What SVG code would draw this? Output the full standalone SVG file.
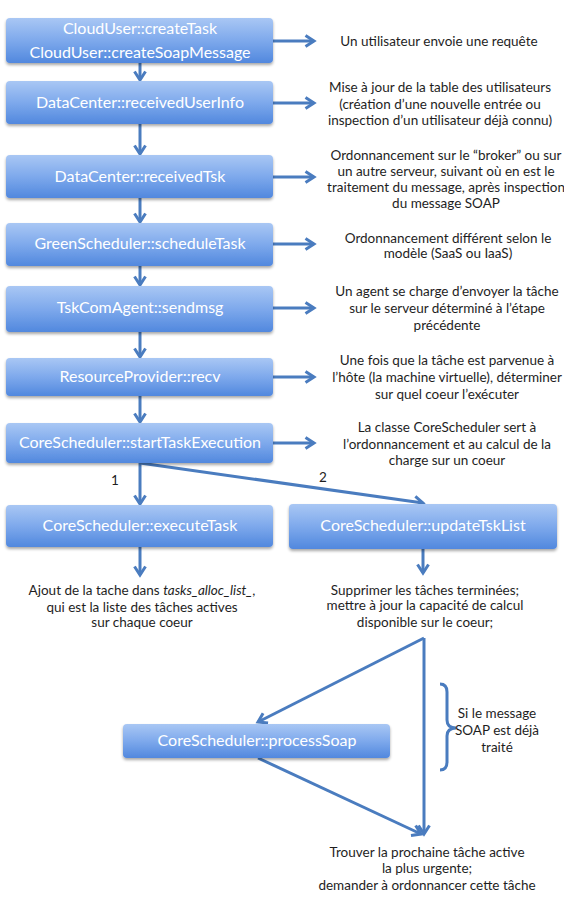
<svg xmlns="http://www.w3.org/2000/svg" width="564" height="902" viewBox="0 0 564 902">
  <defs>
    <linearGradient id="boxFill" x1="0" y1="0" x2="0" y2="1">
      <stop offset="0" stop-color="#a9c7f4"/>
      <stop offset="0.5" stop-color="#7ea9ec"/>
      <stop offset="1" stop-color="#5188de"/>
    </linearGradient>
    <filter id="shadow" x="-5%" y="-20%" width="110%" height="150%">
      <feGaussianBlur in="SourceAlpha" stdDeviation="1.5"/>
      <feOffset dy="2" result="b"/>
      <feComponentTransfer><feFuncA type="linear" slope="0.35"/></feComponentTransfer>
      <feMerge><feMergeNode/><feMergeNode in="SourceGraphic"/></feMerge>
    </filter>
    <marker id="arrow" markerUnits="userSpaceOnUse" viewBox="0 0 14 14" refX="11" refY="7" markerWidth="14" markerHeight="14" orient="auto">
      <path d="M2.5,1.5 L11,7 L2.5,12.5" fill="none" stroke="#4a7cbf" stroke-width="3"/>
    </marker>
  </defs>
  <style>
    .box { fill: url(#boxFill); filter: url(#shadow); }
    .lbl { font-family: Lato, "Open Sans", sans-serif; font-size: 16px; fill: #ffffff; text-anchor: middle; }
    .note { font-family: Lato, "Open Sans", sans-serif; font-size: 13.5px; fill: #1e1e1e; text-anchor: middle; }
    .conn { fill: none; stroke: #4a7cbf; stroke-width: 3; }
    .arr { marker-end: url(#arrow); }
  </style>
  <rect width="564" height="902" fill="#ffffff"/>

  <!-- connectors -->
  <g id="connectors">
    <path class="conn arr" d="M140,63 V80"/>
    <path class="conn arr" d="M140,124 V154"/>
    <path class="conn arr" d="M140,198 V222"/>
    <path class="conn arr" d="M140,266 V285"/>
    <path class="conn arr" d="M140,332 V357"/>
    <path class="conn arr" d="M140,396 V422"/>
    <path class="conn arr" d="M273,41 H314"/>
    <path class="conn arr" d="M273,103 H314"/>
    <path class="conn arr" d="M273,177 H314"/>
    <path class="conn arr" d="M273,244 H314"/>
    <path class="conn arr" d="M273,308 H314"/>
    <path class="conn arr" d="M273,377 H314"/>
    <path class="conn arr" d="M273,443 H314"/>
    <path class="conn arr" d="M140,463 V504"/>
    <path class="conn arr" d="M140,463 L423,503"/>
    <path class="conn arr" d="M140,547 V575"/>
    <path class="conn arr" d="M423,549 V573"/>
    <path class="conn arr" d="M424,638 L258,722"/>
    <path class="conn arr" d="M424,638 V834"/>
    <path class="conn arr" d="M258,758 L421,834"/>
    <path class="conn" stroke-width="2.5" d="M440,684 Q447,684 447,692 V720 Q447,728 456,728 Q447,728 447,736 V762 Q447,770 440,770"/>
  </g>

  <!-- connector labels -->
  <g id="edge-labels">
    <text class="note" x="115" y="485">1</text>
    <text class="note" x="323" y="482">2</text>
  </g>

  <!-- nodes -->
  <g id="createTask">
    <rect class="box" x="6" y="18" width="267" height="45" rx="4"/>
    <text class="lbl" x="140" y="34">CloudUser::createTask</text>
    <text class="lbl" x="140" y="58">CloudUser::createSoapMessage</text>
  </g>
  <g id="receivedUserInfo">
    <rect class="box" x="6" y="81" width="267" height="43" rx="4"/>
    <text class="lbl" x="140" y="108">DataCenter::receivedUserInfo</text>
  </g>
  <g id="receivedTsk">
    <rect class="box" x="6" y="155" width="267" height="43" rx="4"/>
    <text class="lbl" x="140" y="182">DataCenter::receivedTsk</text>
  </g>
  <g id="scheduleTask">
    <rect class="box" x="6" y="223" width="267" height="43" rx="4"/>
    <text class="lbl" x="140" y="249">GreenScheduler::scheduleTask</text>
  </g>
  <g id="sendmsg">
    <rect class="box" x="6" y="286" width="267" height="46" rx="4"/>
    <text class="lbl" x="140" y="313">TskComAgent::sendmsg</text>
  </g>
  <g id="recv">
    <rect class="box" x="6" y="358" width="267" height="38" rx="4"/>
    <text class="lbl" x="140" y="382">ResourceProvider::recv</text>
  </g>
  <g id="startTaskExecution">
    <rect class="box" x="6" y="423" width="267" height="40" rx="4"/>
    <text class="lbl" x="140" y="448">CoreScheduler::startTaskExecution</text>
  </g>
  <g id="executeTask">
    <rect class="box" x="6" y="505" width="267" height="42" rx="4"/>
    <text class="lbl" x="140" y="531">CoreScheduler::executeTask</text>
  </g>
  <g id="updateTskList">
    <rect class="box" x="289" y="504" width="268" height="45" rx="4"/>
    <text class="lbl" x="423" y="531">CoreScheduler::updateTskList</text>
  </g>
  <g id="processSoap">
    <rect class="box" x="123" y="724" width="267" height="34" rx="4"/>
    <text class="lbl" x="257" y="746">CoreScheduler::processSoap</text>
  </g>

  <!-- notes -->
  <g id="notes">
    <text class="note" x="439" y="46">Un utilisateur envoie une requête</text>
    <text class="note" x="440" y="92">Mise à jour de la table des utilisateurs</text>
    <text class="note" x="440" y="109">(création d’une nouvelle entrée ou</text>
    <text class="note" x="440" y="125">inspection d’un utilisateur déjà connu)</text>
    <text class="note" x="446" y="160">Ordonnancement sur le “broker” ou sur</text>
    <text class="note" x="446" y="176">un autre serveur, suivant où en est le</text>
    <text class="note" x="446" y="192">traitement du message, après inspection</text>
    <text class="note" x="446" y="208">du message SOAP</text>
    <text class="note" x="448" y="243">Ordonnancement différent selon le</text>
    <text class="note" x="448" y="258">modèle (SaaS ou IaaS)</text>
    <text class="note" x="447" y="296">Un agent se charge d’envoyer la tâche</text>
    <text class="note" x="447" y="313">sur le serveur déterminé à l’étape</text>
    <text class="note" x="447" y="330">précédente</text>
    <text class="note" x="447" y="365">Une fois que la tâche est parvenue à</text>
    <text class="note" x="447" y="382">l’hôte (la machine virtuelle), déterminer</text>
    <text class="note" x="447" y="399">sur quel coeur l’exécuter</text>
    <text class="note" x="447" y="432">La classe CoreScheduler sert à</text>
    <text class="note" x="447" y="449">l’ordonnancement et au calcul de la</text>
    <text class="note" x="447" y="465">charge sur un coeur</text>
    <text class="note" x="142" y="595">Ajout de la tache dans <tspan font-style="italic">tasks_alloc_list_</tspan>,</text>
    <text class="note" x="142" y="612">qui est la liste des tâches actives</text>
    <text class="note" x="142" y="627">sur chaque coeur</text>
    <text class="note" x="425" y="595">Supprimer les tâches terminées;</text>
    <text class="note" x="425" y="610">mettre à jour la capacité de calcul</text>
    <text class="note" x="425" y="627">disponible sur le coeur;</text>
    <text class="note" x="497" y="718">Si le message</text>
    <text class="note" x="497" y="735">SOAP est déjà</text>
    <text class="note" x="497" y="752">traité</text>
    <text class="note" x="427" y="857">Trouver la prochaine tâche active</text>
    <text class="note" x="427" y="873">la plus urgente;</text>
    <text class="note" x="427" y="890">demander à ordonnancer cette tâche</text>
  </g>
</svg>
